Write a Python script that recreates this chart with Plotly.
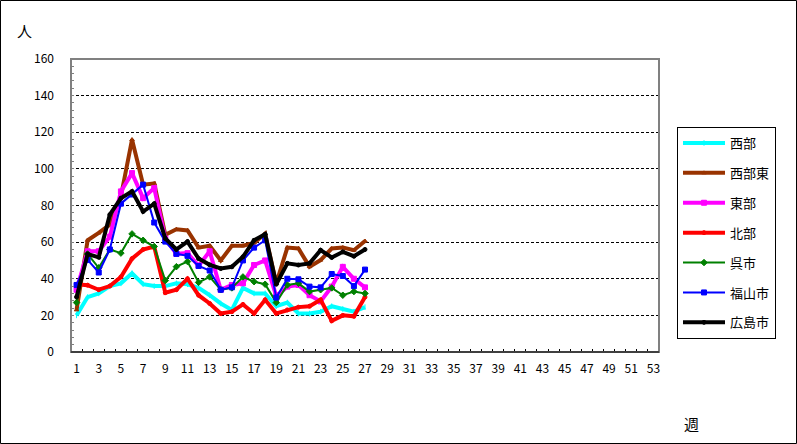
import plotly.graph_objects as go

weeks = [1, 2, 3, 4, 5, 6, 7, 8, 9, 10, 11, 12, 13, 14, 15, 16, 17, 18, 19, 20, 21, 22, 23, 24, 25, 26, 27]

seibu =     [20, 30, 32, 36, 37.5, 43, 37, 36, 36, 37.5, 37, 35, 31, 26.5, 23, 35, 32, 32, 25, 27, 21, 21, 22, 25, 23.5, 22, 24.5]
seibu_e =   [23, 61, 65, 69.5, 85, 116, 91.4, 92, 64, 67, 66.4, 57, 58, 50, 58, 58, 59.6, 64.6, 37.5, 57, 56.5, 46.6, 50.2, 56.5, 57, 55.6, 60.6]
tobu =      [34, 55, 55, 63, 87.7, 97.7, 84, 89.5, 62, 53.6, 54, 47, 55, 34, 36.6, 37.5, 47.5, 50, 30.6, 35.7, 36.6, 31, 27.6, 35.7, 46.5, 40, 35.3]
hokubu =    [37, 36.5, 34, 36, 41, 51, 56, 57.6, 32.4, 34, 40, 31, 26.5, 21, 22, 26, 21, 28.5, 21, 23, 24.5, 25, 28.5, 17, 20, 19.5, 30]
kure =      [27, 53.5, 46, 56, 54, 64.5, 61, 57.6, 39, 46.6, 49.4, 38, 41, 34, 35, 41, 38.4, 37, 27, 36.6, 37.5, 33, 34, 35, 31, 33, 32]
fukuyama =  [36.6, 50.3, 43.4, 56, 81, 86, 91.4, 70.7, 60.3, 53.6, 52.5, 47, 44.5, 34, 35.3, 50, 57, 61, 29.7, 40, 39.7, 35.7, 35.3, 42.6, 41.5, 36, 45]
hiroshima = [30, 53.5, 51.7, 75, 84, 87.7, 76.7, 81, 62, 56, 60.3, 51, 47.6, 45.6, 46.5, 52, 61, 64.3, 37, 48.4, 47.5, 48.4, 55.6, 51.6, 54.7, 52.3, 56]

x_tick_vals = [1, 3, 5, 7, 9, 11, 13, 15, 17, 19, 21, 23, 25, 27, 29, 31, 33, 35, 37, 39, 41, 43, 45, 47, 49, 51, 53]
x_tick_text = ["1", "3", "5", "7", "9", "11", "13", "15", "17", "19", "21", "23", "25", "27", "29", "31", "33", "35", "37", "39", "41", "43", "45", "47", "49", "51", "53"]
y_tick_vals = [0, 20, 40, 60, 80, 100, 120, 140, 160]

names = ["西部", "西部東", "東部", "北部", "呉市", "福山市", "広島市"]
series = [seibu, seibu_e, tobu, hokubu, kure, fukuyama, hiroshima]
colors = ["#00FFFF", "#993300", "#FF00FF", "#FF0000", "#008000", "#0000FF", "#000000"]
widths = [4, 4, 4, 4, 2, 2, 4]
symbols = ["line-ns", "triangle-up", "square", "circle", "diamond", "square", "circle"]
msizes = [4, 4, 5, 4, 5, 5, 4]

FONT = "Noto Sans CJK JP"

fig = go.Figure()
for i, (nm, ys) in enumerate(zip(names, series)):
    fig.add_trace(go.Scatter(
        x=weeks, y=ys, name=nm, mode="lines+markers",
        legendgroup=nm,
        line=dict(color=colors[i], width=widths[i]),
        marker=dict(symbol=symbols[i], size=msizes[i], color=colors[i],
                    line=dict(color=colors[i], width=1)),
    ))

L, R, T, B = 71, 138, 59, 92
W, H = 797, 444
pw, ph = W - L - R, H - T - B

def px(xp):
    return (xp - L) / pw

def py(yp):
    return (H - B - yp) / ph

fig.update_layout(
    width=W, height=H,
    margin=dict(l=L, r=R, t=T, b=B, pad=0),
    paper_bgcolor="white", plot_bgcolor="white",
    font=dict(family=FONT, size=12, color="black"),
    showlegend=True,
    legend=dict(
        x=px(677), y=py(127), xanchor="left", yanchor="top",
        bordercolor="black", borderwidth=1, bgcolor="white",
        font=dict(family=FONT, size=13, color="black"),
        tracegroupgap=10, traceorder="grouped", itemwidth=42,
    ),
    xaxis=dict(
        range=[0.5, 53.5], tickmode="array", tickvals=x_tick_vals, ticktext=x_tick_text,
        ticks="", showgrid=False, zeroline=False, showline=False,
        tickfont=dict(family=FONT, size=12, color="black"),
        ticklabelstandoff=8,
        minor=dict(tickmode="array", tickvals=[k + 0.5 for k in range(0, 54)],
                   ticks="inside", ticklen=3, tickcolor="black", tickwidth=1, showgrid=False),
    ),
    yaxis=dict(
        range=[0, 160], tickmode="array", tickvals=y_tick_vals,
        ticks="", showline=False, zeroline=False,
        showgrid=True, gridcolor="black", gridwidth=1, griddash="3px,2px",
        tickfont=dict(family=FONT, size=12, color="black"),
        ticklabelstandoff=16,
        minor=dict(tickmode="linear", tick0=0, dtick=4, ticks="inside", ticklen=3,
                   tickcolor="#808080", tickwidth=1, showgrid=False),
    ),
    shapes=[
        dict(type="rect", xref="paper", yref="paper", x0=0, x1=1, y0=0, y1=1,
             line=dict(color="#808080", width=2), layer="above"),
        dict(type="line", xref="paper", yref="paper", x0=0, x1=1, y0=0, y1=0,
             line=dict(color="black", width=1), layer="above"),
        dict(type="rect", xref="paper", yref="paper",
             x0=px(0.5), x1=px(796.5), y0=py(443.5), y1=py(0.5),
             line=dict(color="black", width=1), layer="above"),
    ],
    annotations=[
        dict(text="人", xref="paper", yref="paper", x=px(24), y=py(31),
             xanchor="center", yanchor="middle", showarrow=False,
             font=dict(family=FONT, size=15, color="black")),
        dict(text="週", xref="paper", yref="paper", x=px(691), y=py(423),
             xanchor="center", yanchor="middle", showarrow=False,
             font=dict(family=FONT, size=15, color="black")),
    ],
)

fig.write_html("out.html")
